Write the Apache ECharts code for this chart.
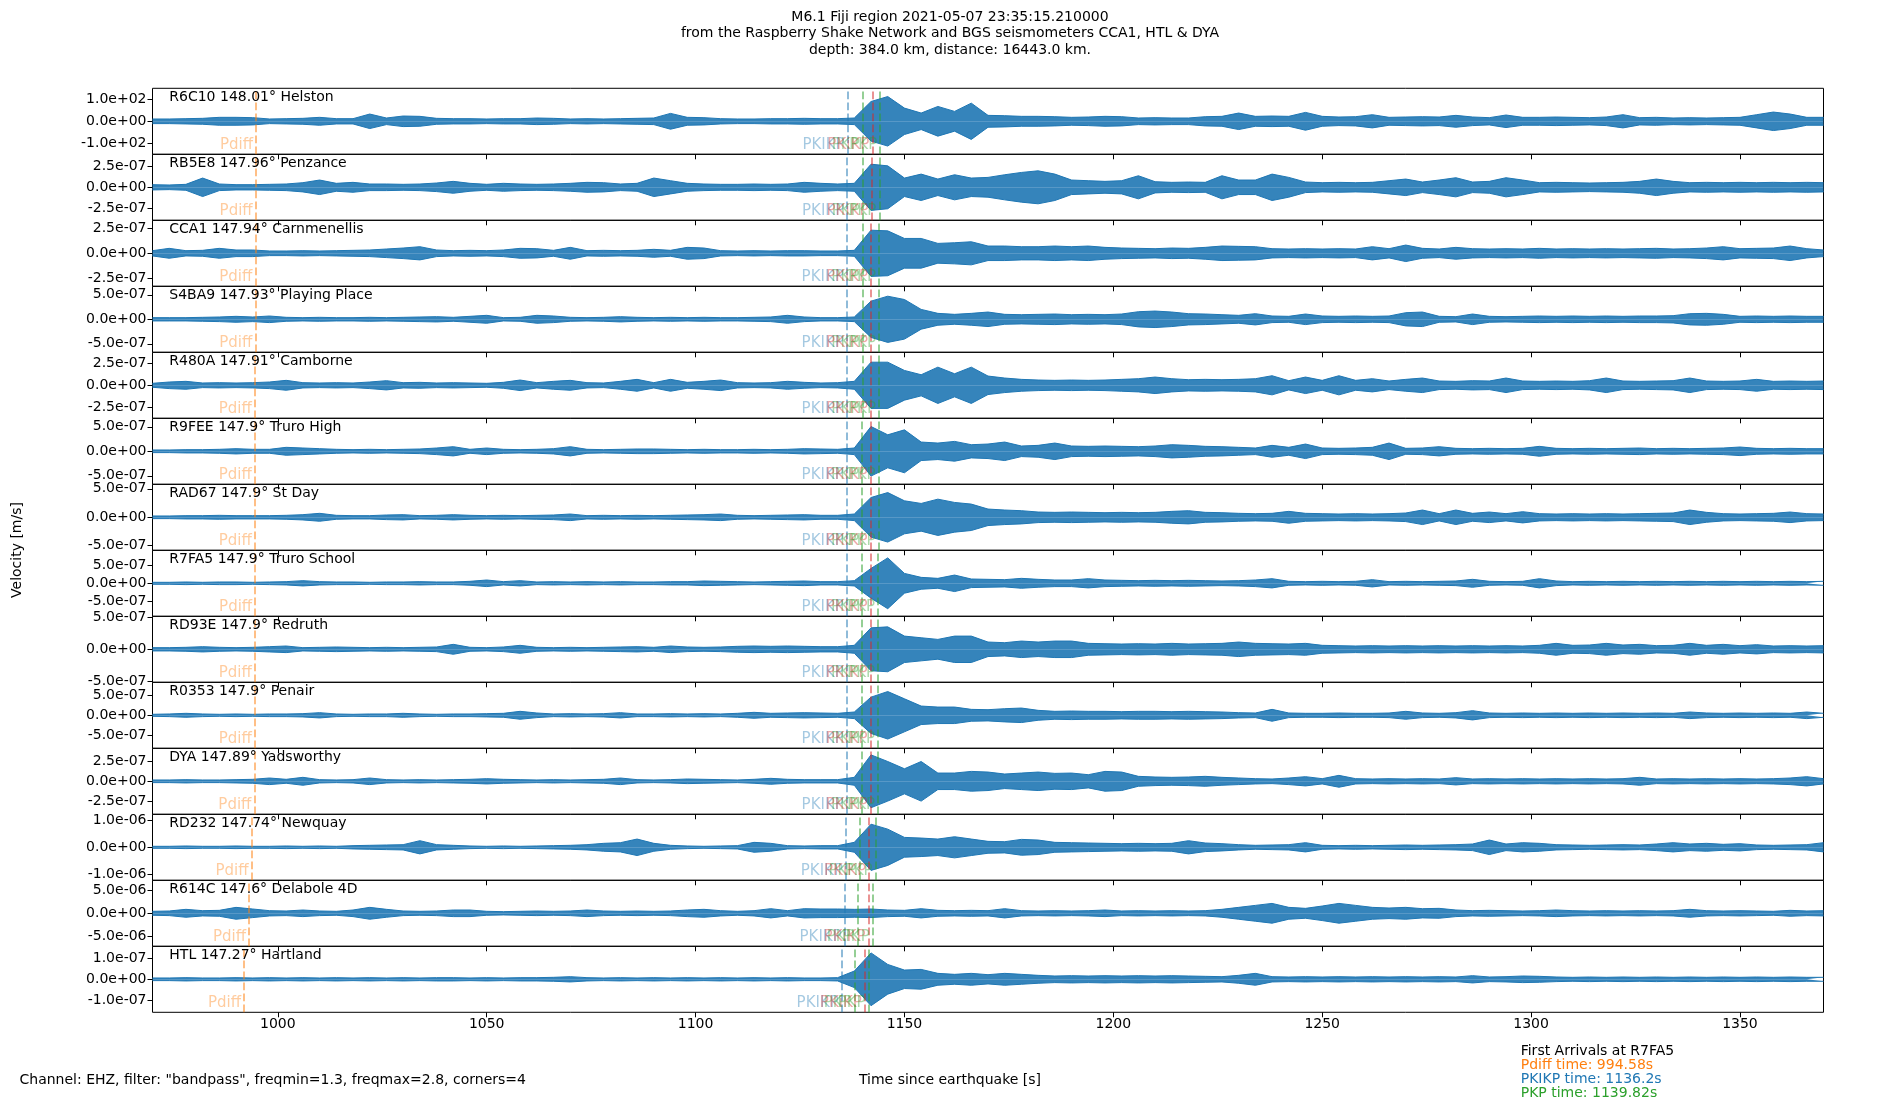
<!DOCTYPE html>
<html><head><meta charset="utf-8">
<script src="https://cdn.jsdelivr.net/npm/echarts@6/dist/echarts.min.js"></script>
<style>html,body{margin:0;padding:0;background:#fff}#c{width:1900px;height:1100px}</style>
</head><body><div id="c"></div>
<script>
// ---------------- data ----------------
const xMin = 970, xMax = 1370;
const xTicks = [1000, 1050, 1100, 1150, 1200, 1250, 1300, 1350];
const sampleStart = 970, sampleStep = 4;   // envelope read every 4 s
const titleLines = [
  'M6.1 Fiji region 2021-05-07 23:35:15.210000',
  'from the Raspberry Shake Network and BGS seismometers CCA1, HTL & DYA',
  'depth: 384.0 km, distance: 16443.0 km.'
];
const stationLabels = [
  'R6C10 148.01° Helston', 'RB5E8 147.96° Penzance', 'CCA1 147.94° Carnmenellis',
  'S4BA9 147.93° Playing Place', 'R480A 147.91° Camborne', 'R9FEE 147.9° Truro High',
  'RAD67 147.9° St Day', 'R7FA5 147.9° Truro School', 'RD93E 147.9° Redruth',
  'R0353 147.9° Penair', 'DYA 147.89° Yadsworthy', 'RD232 147.74° Newquay',
  'R614C 147.6° Delabole 4D', 'HTL 147.27° Hartland'
];
const tickValues = [100, 2.5e-7, 2.5e-7, 5e-7, 2.5e-7, 5e-7, 5e-7, 5e-7, 5e-7, 5e-7, 2.5e-7, 1e-6, 5e-6, 1e-7];
const yHalfRange = [150, 3.93e-7, 3.33e-7, 6.73e-7, 3.8e-7, 6.73e-7, 5.8e-7, 9.3e-7, 5.1e-7, 8.25e-7, 4.17e-7, 1.22e-6, 7.06e-6, 1.59e-7];
const pdiffTimes  = [994.8, 994.7, 994.6, 994.6, 994.5, 994.5, 994.5, 994.58, 994.5, 994.5, 994.4, 993.7, 993.1, 991.9];
const pkikpTimes  = [1136.4, 1136.3, 1136.2, 1136.2, 1136.2, 1136.2, 1136.2, 1136.2, 1136.2, 1136.2, 1136.2, 1136.0, 1135.7, 1135.0];
const pkpTimes    = [1140.0, 1140.0, 1139.9, 1139.9, 1139.9, 1139.85, 1139.85, 1139.82, 1139.8, 1139.8, 1139.8, 1139.2, 1138.8, 1138.1];
const pkikRedTimes= [1142.3, 1142.1, 1142.0, 1142.0, 1142.0, 1141.9, 1141.9, 1141.9, 1141.9, 1141.9, 1141.9, 1141.5, 1141.4, 1140.5];
const pkp2Times   = [1144.2, 1144.0, 1143.9, 1143.9, 1143.9, 1143.8, 1143.8, 1143.7, 1143.7, 1143.7, 1143.7, 1143.1, 1142.4, 1141.4];

// envelope of each trace (fraction of the panel half-range), one value every 4 s from 970 s
const env_R6C10 = [0.07,0.07,0.08,0.09,0.12,0.12,0.11,0.07,0.08,0.09, 0.12,0.08,0.08,0.22,0.10,0.16,0.15,0.09,0.08,0.08, 0.07,0.08,0.08,0.10,0.09,0.07,0.08,0.07,0.08,0.09, 0.10,0.24,0.12,0.11,0.08,0.07,0.07,0.08,0.08,0.09, 0.08,0.08,0.10,0.60,0.75,0.40,0.25,0.45,0.30,0.55, 0.18,0.17,0.15,0.15,0.14,0.12,0.13,0.15,0.14,0.10, 0.11,0.10,0.10,0.14,0.15,0.25,0.15,0.16,0.15,0.27, 0.15,0.13,0.14,0.20,0.12,0.13,0.14,0.13,0.18,0.13, 0.11,0.19,0.12,0.12,0.13,0.12,0.11,0.13,0.20,0.11, 0.12,0.10,0.11,0.10,0.11,0.12,0.20,0.28,0.22,0.12, 0.12];
const env_RB5E8 = [0.08,0.07,0.09,0.28,0.10,0.08,0.08,0.09,0.10,0.14, 0.22,0.12,0.15,0.10,0.10,0.09,0.10,0.13,0.18,0.12, 0.09,0.12,0.10,0.09,0.10,0.12,0.15,0.14,0.10,0.12, 0.28,0.20,0.12,0.10,0.09,0.09,0.10,0.09,0.10,0.15, 0.12,0.10,0.12,0.70,0.65,0.28,0.40,0.25,0.38,0.28, 0.30,0.38,0.45,0.50,0.40,0.22,0.20,0.18,0.20,0.35, 0.17,0.15,0.16,0.15,0.35,0.22,0.22,0.40,0.30,0.16, 0.14,0.15,0.14,0.15,0.20,0.25,0.16,0.22,0.29,0.16, 0.18,0.29,0.22,0.14,0.15,0.14,0.13,0.14,0.15,0.18, 0.25,0.18,0.14,0.15,0.14,0.15,0.14,0.15,0.14,0.15, 0.14];
const env_CCA1 = [0.08,0.15,0.08,0.09,0.15,0.10,0.10,0.07,0.07,0.08, 0.07,0.08,0.09,0.10,0.13,0.16,0.20,0.10,0.08,0.09, 0.08,0.10,0.15,0.14,0.09,0.18,0.08,0.09,0.08,0.09, 0.12,0.09,0.18,0.16,0.08,0.07,0.08,0.07,0.08,0.08, 0.07,0.07,0.09,0.70,0.68,0.45,0.45,0.30,0.32,0.35, 0.22,0.22,0.20,0.20,0.22,0.20,0.22,0.18,0.16,0.15, 0.14,0.16,0.15,0.18,0.22,0.21,0.20,0.14,0.13,0.14, 0.13,0.14,0.13,0.20,0.14,0.25,0.15,0.13,0.18,0.14, 0.13,0.14,0.13,0.15,0.13,0.14,0.13,0.14,0.13,0.14, 0.15,0.13,0.14,0.16,0.20,0.14,0.15,0.16,0.22,0.14, 0.10];
const env_S4BA9 = [0.05,0.05,0.05,0.06,0.07,0.09,0.07,0.10,0.06,0.05, 0.06,0.05,0.05,0.06,0.05,0.06,0.07,0.08,0.06,0.09, 0.12,0.05,0.06,0.12,0.10,0.06,0.05,0.06,0.08,0.06, 0.05,0.06,0.05,0.06,0.05,0.05,0.06,0.07,0.12,0.07, 0.05,0.05,0.07,0.55,0.70,0.60,0.30,0.18,0.15,0.18, 0.22,0.15,0.14,0.15,0.16,0.14,0.15,0.14,0.16,0.23, 0.25,0.22,0.17,0.16,0.14,0.12,0.17,0.10,0.09,0.16, 0.10,0.09,0.10,0.09,0.10,0.20,0.22,0.09,0.08,0.16, 0.09,0.08,0.09,0.10,0.09,0.10,0.09,0.10,0.09,0.10, 0.10,0.11,0.17,0.18,0.15,0.09,0.10,0.09,0.10,0.09, 0.09];
const env_R480A = [0.06,0.10,0.12,0.07,0.08,0.07,0.08,0.10,0.15,0.08, 0.07,0.08,0.07,0.10,0.14,0.08,0.09,0.07,0.08,0.07, 0.06,0.09,0.16,0.08,0.12,0.15,0.08,0.07,0.12,0.18, 0.08,0.18,0.09,0.12,0.16,0.08,0.07,0.08,0.12,0.09, 0.07,0.08,0.12,0.70,0.70,0.45,0.32,0.55,0.35,0.55, 0.28,0.22,0.18,0.16,0.15,0.16,0.15,0.16,0.18,0.20, 0.25,0.20,0.17,0.18,0.17,0.18,0.20,0.29,0.14,0.25, 0.15,0.29,0.15,0.20,0.13,0.18,0.22,0.13,0.12,0.14, 0.13,0.22,0.13,0.12,0.13,0.12,0.14,0.22,0.13,0.12, 0.13,0.14,0.22,0.13,0.12,0.13,0.18,0.12,0.13,0.12, 0.13];
const env_R9FEE = [0.04,0.04,0.05,0.05,0.06,0.08,0.06,0.06,0.12,0.10, 0.08,0.06,0.05,0.06,0.05,0.06,0.07,0.10,0.14,0.06, 0.10,0.06,0.05,0.06,0.08,0.14,0.06,0.05,0.06,0.07, 0.07,0.06,0.05,0.06,0.05,0.05,0.06,0.05,0.06,0.08, 0.07,0.06,0.10,0.75,0.50,0.65,0.28,0.25,0.30,0.20, 0.22,0.28,0.16,0.18,0.25,0.16,0.15,0.16,0.15,0.14, 0.16,0.20,0.18,0.15,0.14,0.12,0.10,0.18,0.12,0.22, 0.10,0.09,0.10,0.12,0.25,0.09,0.10,0.14,0.09,0.08, 0.09,0.08,0.09,0.15,0.09,0.08,0.09,0.08,0.09,0.10, 0.08,0.09,0.08,0.09,0.10,0.13,0.09,0.08,0.09,0.08, 0.08];
const env_RAD67 = [0.04,0.04,0.05,0.05,0.06,0.05,0.05,0.05,0.06,0.08, 0.12,0.06,0.05,0.05,0.07,0.08,0.05,0.06,0.08,0.06, 0.05,0.06,0.05,0.06,0.07,0.10,0.05,0.06,0.05,0.06, 0.05,0.06,0.07,0.08,0.10,0.06,0.05,0.06,0.07,0.08, 0.06,0.06,0.10,0.60,0.75,0.50,0.42,0.55,0.45,0.40, 0.25,0.22,0.20,0.16,0.15,0.16,0.15,0.14,0.15,0.14, 0.15,0.18,0.20,0.15,0.14,0.12,0.11,0.12,0.18,0.12, 0.11,0.10,0.11,0.10,0.11,0.13,0.22,0.11,0.22,0.12, 0.16,0.11,0.17,0.11,0.10,0.11,0.10,0.11,0.10,0.11, 0.12,0.13,0.22,0.15,0.11,0.10,0.11,0.12,0.16,0.11, 0.10];
const env_R7FA5 = [0.03,0.03,0.04,0.03,0.04,0.04,0.03,0.04,0.05,0.08, 0.05,0.04,0.04,0.03,0.04,0.04,0.05,0.04,0.04,0.06, 0.10,0.05,0.08,0.04,0.05,0.04,0.05,0.04,0.05,0.04, 0.04,0.05,0.05,0.07,0.06,0.05,0.04,0.05,0.06,0.07, 0.05,0.05,0.08,0.45,0.77,0.30,0.18,0.15,0.25,0.13, 0.12,0.11,0.15,0.12,0.10,0.10,0.14,0.10,0.09,0.08, 0.09,0.08,0.09,0.08,0.07,0.08,0.10,0.14,0.06,0.05, 0.06,0.05,0.06,0.11,0.05,0.06,0.05,0.06,0.07,0.12, 0.06,0.05,0.06,0.14,0.07,0.05,0.06,0.05,0.06,0.05, 0.06,0.05,0.06,0.05,0.06,0.05,0.06,0.05,0.06,0.05, 0.06];
const env_RD93E = [0.05,0.05,0.06,0.08,0.06,0.05,0.06,0.08,0.10,0.05, 0.06,0.07,0.06,0.05,0.06,0.05,0.06,0.07,0.15,0.06, 0.05,0.07,0.12,0.06,0.05,0.06,0.05,0.06,0.07,0.08, 0.06,0.10,0.07,0.06,0.07,0.09,0.10,0.09,0.10,0.09, 0.08,0.08,0.12,0.65,0.68,0.40,0.35,0.30,0.40,0.40, 0.22,0.20,0.25,0.22,0.25,0.25,0.18,0.17,0.16,0.17, 0.16,0.18,0.16,0.17,0.18,0.22,0.18,0.17,0.16,0.18, 0.12,0.11,0.10,0.11,0.10,0.11,0.10,0.11,0.10,0.11, 0.10,0.11,0.10,0.12,0.18,0.12,0.13,0.18,0.13,0.15, 0.11,0.12,0.18,0.12,0.15,0.11,0.14,0.10,0.11,0.10, 0.11];
const env_R0353 = [0.03,0.04,0.06,0.04,0.03,0.04,0.03,0.04,0.04,0.05, 0.08,0.04,0.03,0.04,0.04,0.06,0.04,0.03,0.04,0.04, 0.05,0.06,0.12,0.07,0.04,0.05,0.04,0.05,0.08,0.04, 0.04,0.05,0.04,0.05,0.04,0.06,0.09,0.06,0.07,0.08, 0.07,0.06,0.10,0.55,0.72,0.50,0.28,0.25,0.25,0.18, 0.17,0.20,0.22,0.15,0.12,0.13,0.12,0.12,0.11,0.12, 0.12,0.11,0.12,0.11,0.10,0.08,0.07,0.18,0.07,0.06, 0.06,0.07,0.06,0.06,0.07,0.12,0.07,0.06,0.08,0.14, 0.07,0.06,0.07,0.06,0.07,0.06,0.07,0.06,0.07,0.06, 0.07,0.06,0.10,0.07,0.06,0.07,0.06,0.07,0.06,0.10, 0.06];
const env_DYA = [0.04,0.04,0.05,0.04,0.04,0.05,0.06,0.10,0.06,0.12, 0.05,0.04,0.05,0.10,0.05,0.04,0.05,0.04,0.05,0.06, 0.08,0.06,0.05,0.04,0.05,0.04,0.05,0.06,0.10,0.05, 0.04,0.05,0.07,0.06,0.05,0.04,0.06,0.09,0.06,0.05, 0.05,0.05,0.12,0.80,0.60,0.38,0.60,0.25,0.25,0.30, 0.28,0.22,0.25,0.28,0.24,0.25,0.20,0.30,0.28,0.15, 0.13,0.12,0.13,0.15,0.12,0.10,0.08,0.07,0.10,0.14, 0.08,0.18,0.08,0.07,0.08,0.07,0.08,0.07,0.11,0.07, 0.08,0.07,0.08,0.07,0.08,0.07,0.08,0.07,0.08,0.12, 0.07,0.08,0.07,0.08,0.07,0.08,0.07,0.08,0.10,0.14, 0.08];
const env_RD232 = [0.03,0.03,0.04,0.03,0.03,0.04,0.03,0.03,0.04,0.03, 0.04,0.03,0.05,0.06,0.07,0.08,0.20,0.08,0.06,0.04, 0.03,0.04,0.03,0.04,0.05,0.06,0.08,0.12,0.14,0.25, 0.12,0.06,0.04,0.03,0.04,0.05,0.15,0.12,0.05,0.04, 0.05,0.05,0.15,0.70,0.55,0.30,0.28,0.25,0.32,0.25, 0.18,0.17,0.24,0.22,0.15,0.14,0.13,0.12,0.11,0.12, 0.11,0.12,0.20,0.13,0.11,0.08,0.06,0.07,0.08,0.14, 0.06,0.05,0.06,0.05,0.06,0.07,0.06,0.07,0.08,0.10, 0.22,0.10,0.14,0.12,0.08,0.07,0.06,0.07,0.08,0.07, 0.10,0.14,0.10,0.12,0.09,0.11,0.07,0.06,0.07,0.08, 0.14];
const env_R614C = [0.06,0.07,0.12,0.08,0.09,0.18,0.13,0.08,0.07,0.10, 0.07,0.06,0.10,0.18,0.12,0.07,0.06,0.07,0.10,0.10, 0.06,0.05,0.06,0.07,0.06,0.07,0.10,0.07,0.06,0.07, 0.06,0.07,0.10,0.12,0.08,0.06,0.08,0.14,0.08,0.14, 0.13,0.13,0.12,0.13,0.10,0.09,0.14,0.09,0.08,0.09, 0.08,0.14,0.08,0.07,0.08,0.07,0.08,0.10,0.07,0.08, 0.07,0.08,0.07,0.08,0.12,0.18,0.24,0.30,0.18,0.15, 0.22,0.30,0.24,0.18,0.16,0.18,0.14,0.15,0.10,0.08, 0.09,0.08,0.07,0.08,0.10,0.08,0.07,0.08,0.07,0.08, 0.07,0.08,0.12,0.08,0.07,0.08,0.07,0.06,0.09,0.07, 0.08];
const env_HTL = [0.04,0.04,0.05,0.04,0.04,0.05,0.04,0.05,0.04,0.05, 0.04,0.05,0.04,0.05,0.04,0.05,0.04,0.05,0.05,0.04, 0.05,0.04,0.05,0.05,0.06,0.08,0.05,0.04,0.05,0.04, 0.05,0.04,0.05,0.04,0.05,0.04,0.05,0.04,0.05,0.04, 0.04,0.05,0.25,0.80,0.45,0.28,0.30,0.18,0.15,0.18, 0.14,0.18,0.15,0.12,0.10,0.11,0.10,0.11,0.10,0.11, 0.10,0.11,0.10,0.09,0.08,0.12,0.18,0.08,0.07,0.08, 0.07,0.08,0.07,0.08,0.07,0.08,0.07,0.08,0.07,0.11, 0.07,0.08,0.10,0.09,0.07,0.06,0.07,0.06,0.07,0.06, 0.07,0.06,0.07,0.06,0.07,0.06,0.07,0.06,0.07,0.06, 0.06];
const envelopes = [env_R6C10, env_RB5E8, env_CCA1, env_S4BA9, env_R480A, env_R9FEE, env_RAD67,
                   env_R7FA5, env_RD93E, env_R0353, env_DYA, env_RD232, env_R614C, env_HTL];
const footerText = 'Channel: EHZ, filter: "bandpass", freqmin=1.3, freqmax=2.8, corners=4';
const xLabelText = 'Time since earthquake [s]';
const yLabelText = 'Velocity [m/s]';
const refStation = 7; // R7FA5

// ---------------- chart ----------------
const FONT = '"DejaVu Sans", sans-serif';
const C0 = '#1f77b4', C1 = '#ff7f0e', C2 = '#2ca02c', C3 = '#d62728';
const N = 14, plotLeft = 152.5, plotWidth = 1671, plotTop = 88.3, panelH = 66;
const arrivals = [
  {name: 'Pdiff', times: pdiffTimes, color: 'rgba(255,127,14,0.5)'},
  {name: 'PKIKP', times: pkikpTimes, color: 'rgba(31,119,180,0.5)'},
  {name: 'PKP', times: pkpTimes, color: 'rgba(44,160,44,0.5)'},
  {name: 'PKiKP', times: pkikRedTimes, color: 'rgba(214,39,40,0.5)'},
  {name: 'PKP', times: pkp2Times, color: 'rgba(44,160,44,0.5)'}
];
function expFmt(v) {
  const s = Number(v).toExponential(1);
  return s.replace(/e([+-])(\d+)$/, function (m, sg, d) { return 'e' + sg + (d.length < 2 ? '0' + d : d); });
}
const sampleTimes = envelopes[0].map(function (_, k) { return sampleStart + k * sampleStep; });

const grids = [], xAxes = [], yAxes = [], series = [], graphics = [];
for (let i = 0; i < N; i++) {
  const top = plotTop + i * panelH;
  const tv = tickValues[i], h = yHalfRange[i];
  grids.push({left: plotLeft, top: top, width: plotWidth, height: panelH, show: true,
    borderColor: '#000', borderWidth: 1, backgroundColor: 'transparent', containLabel: false, outerBoundsMode: 'none'});
  xAxes.push({type: 'value', gridIndex: i, min: xMin, max: xMax, position: 'bottom',
    axisLine: {show: false, onZero: false},
    axisTick: {show: true, customValues: xTicks, length: 5, lineStyle: {color: '#000', width: 1}},
    axisLabel: {show: i === N - 1, customValues: xTicks, formatter: function (v) { return String(v); },
      fontSize: 14, fontFamily: FONT, color: '#000', margin: 5, hideOverlap: false},
    splitLine: {show: false}});
  yAxes.push({type: 'value', gridIndex: i, min: -h, max: h,
    axisLine: {show: false},
    axisTick: {show: true, customValues: [-tv, 0, tv], length: 5, lineStyle: {color: '#000', width: 1}},
    axisLabel: {show: true, customValues: [-tv, 0, tv], formatter: expFmt, fontSize: 14, fontFamily: FONT, color: '#000', margin: 6, hideOverlap: false},
    splitLine: {show: false}});
  const env = envelopes[i];
  const up = sampleTimes.map(function (t, k) { return [t, env[k] * h]; });
  const dn = sampleTimes.map(function (t, k) { return [t, -env[k] * h]; });
  series.push({type: 'line', xAxisIndex: i, yAxisIndex: i, data: up, symbol: 'none', showSymbol: false, silent: true, z: 2,
    lineStyle: {color: C0, width: 1}, areaStyle: {color: C0, opacity: 0.9},
    markLine: {symbol: ['none', 'none'], silent: true, animation: false, label: {show: false}, z: 3,
      data: arrivals.map(function (a) { return {xAxis: a.times[i], lineStyle: {color: a.color, type: [7.7, 3.3], width: 2}}; })}});
  series.push({type: 'line', xAxisIndex: i, yAxisIndex: i, data: dn, symbol: 'none', showSymbol: false, silent: true, z: 2,
    lineStyle: {color: C0, width: 1}, areaStyle: {color: C0, opacity: 0.9}});
  series.push({type: 'scatter', xAxisIndex: i, yAxisIndex: i, symbolSize: 0, clip: false, silent: true, z: 5,
    itemStyle: {color: 'transparent'},
    label: {show: true, position: 'left', distance: 3, offset: [0, -9], formatter: '{b}', fontSize: 15, fontFamily: FONT},
    data: arrivals.map(function (a) { return {value: [a.times[i], -h], name: a.name, label: {color: a.color}}; })});
  graphics.push({type: 'text', x: plotLeft + 16.8, y: top + 9, z: 100, silent: true,
    style: {text: stationLabels[i], fill: '#000', fontSize: 14, fontFamily: FONT,
      textAlign: 'left', textVerticalAlign: 'middle', align: 'left', verticalAlign: 'middle'}});
}
function txt(x, y, s, color, align, extra) {
  const o = {type: 'text', x: x, y: y, z: 100, silent: true,
    style: {text: s, fill: color || '#000', fontSize: 14, fontFamily: FONT,
      textAlign: align || 'left', textVerticalAlign: 'middle', align: align || 'left', verticalAlign: 'middle'}};
  if (extra) Object.assign(o, extra);
  return o;
}
graphics.push(txt(950, 17, titleLines[0], '#000', 'center'));
graphics.push(txt(950, 33.5, titleLines[1], '#000', 'center'));
graphics.push(txt(950, 50, titleLines[2], '#000', 'center'));
graphics.push(txt(17, 550, yLabelText, '#000', 'center', {rotation: Math.PI / 2}));
graphics.push(txt(950, 1080, xLabelText, '#000', 'center'));
graphics.push(txt(19.5, 1080, footerText, '#000', 'left'));
graphics.push(txt(1520.7, 1051.5, 'First Arrivals at ' + stationLabels[refStation].split(' ')[0], '#000', 'left'));
graphics.push(txt(1520.7, 1065.3, 'Pdiff time: ' + pdiffTimes[refStation] + 's', C1, 'left'));
graphics.push(txt(1520.7, 1079.1, 'PKIKP time: ' + pkikpTimes[refStation] + 's', C0, 'left'));
graphics.push(txt(1520.7, 1092.9, 'PKP time: ' + pkpTimes[refStation] + 's', C2, 'left'));

const chart = echarts.init(document.getElementById('c'), null, {renderer: 'canvas', width: 1900, height: 1100});
chart.setOption({
  backgroundColor: '#fff',
  animation: false,
  grid: grids, xAxis: xAxes, yAxis: yAxes, series: series,
  graphic: {elements: graphics}
});
</script>
</body></html>
